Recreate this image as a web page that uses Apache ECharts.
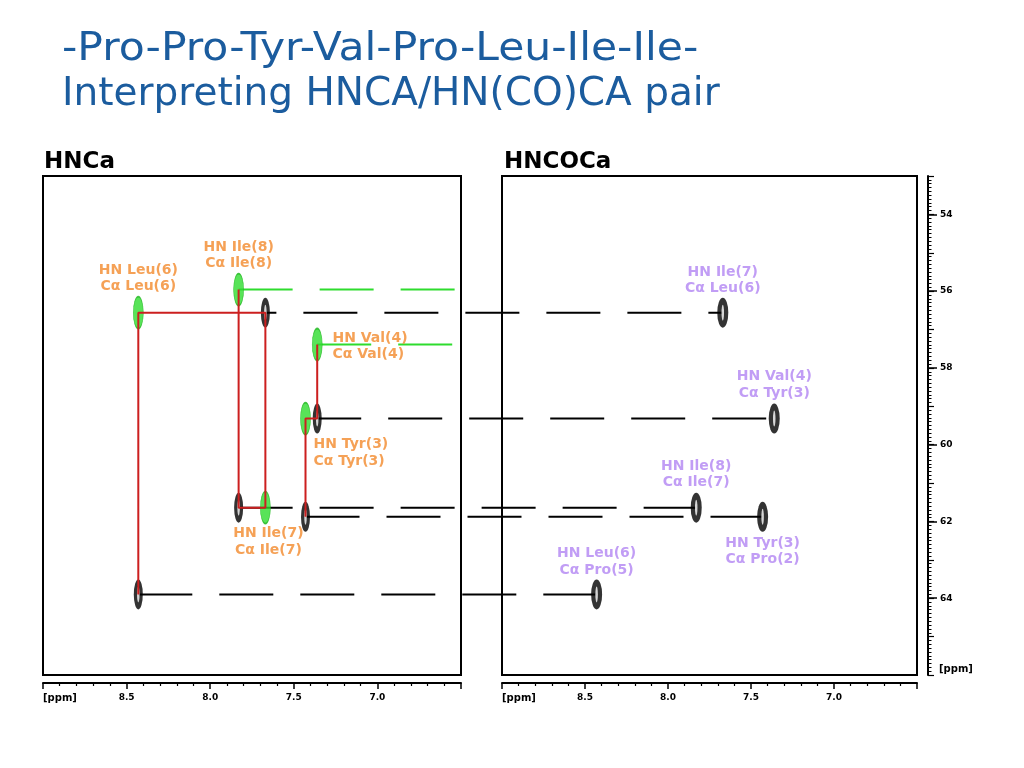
<!DOCTYPE html>
<html><head><meta charset="utf-8">
<script src="https://cdn.jsdelivr.net/npm/echarts@6/dist/echarts.min.js"></script>
<style>html,body{margin:0;padding:0;background:#fff}#c{width:1024px;height:768px}</style>
</head><body><div id="c"></div>
<script>
// ---- data ----
const titleLines = ['-Pro-Pro-Tyr-Val-Pro-Leu-Ile-Ile-', 'Interpreting HNCA/HN(CO)CA pair'];
const panelTitles = ['HNCa', 'HNCOCa'];
const residues     = ['Tyr(3)', 'Val(4)', 'Leu(6)', 'Ile(7)', 'Ile(8)'];
const prevResidues = ['Pro(2)', 'Tyr(3)', 'Pro(5)', 'Leu(6)', 'Ile(7)'];
const hnShift      = [7.43, 7.36, 8.43, 7.67, 7.83];
const caShift      = [59.32, 57.39, 56.56, 61.64, 55.96];
const caPrevShift  = [61.88, 59.32, 63.90, 56.56, 61.64];
const walks = [['Ile(8)', 'Ile(7)', 'Leu(6)'], ['Val(4)', 'Tyr(3)']];
const greenLineResidues = ['Ile(8)', 'Val(4)'];
const xRange = [6.5, 9.0];
const xStep = 0.5;
const yRange = [53, 66];
const yTickLabels = [54, 56, 58, 60, 62, 64];
const unitLabel = '[ppm]';

// ---- styles ----
const C = {title:'#1b5c9e', orange:'#f28a2c', purple:'#b285f2', green:'#2edc2e', red:'#cc1f1f', black:'#000'};
const FONT = 'DejaVu Sans';
const hncaLabelStyle = {
  'Leu(6)': {position:'top', distance:1},
  'Ile(8)': {position:'top', distance:1},
  'Val(4)': {position:'right', distance:10, offset:[0,2]},
  'Tyr(3)': {position:'bottom', distance:1, align:'left', offset:[8,0]},
  'Ile(7)': {position:'bottom', distance:1, offset:[3,0]}
};
const hncocaLabelStyle = {
  'Ile(7)': {position:'top', distance:1},
  'Val(4)': {position:'top', distance:2},
  'Ile(8)': {position:'top', distance:2},
  'Tyr(3)': {position:'bottom', distance:3},
  'Leu(6)': {position:'top', distance:1}
};
const linkDashOffset = {'Val(4)':10, 'Ile(7)':43};
const ELLIPSE = 'path://M10,0A10,10 0 1,1 10,20A10,10 0 1,1 10,0Z';

const idx = r => residues.indexOf(r);
const chart = echarts.init(document.getElementById('c'));

function xAxisOf(g) {
  return {
    gridIndex:g, type:'value', min:xRange[0], max:xRange[1], interval:xStep, inverse:true,
    position:'bottom', offset:8,
    axisLine:{lineStyle:{color:C.black, width:2}},
    axisTick:{length:6, lineStyle:{color:C.black, width:1.5}},
    minorTick:{show:true, splitNumber:5, length:3, lineStyle:{color:C.black, width:1.2}},
    axisLabel:{showMinLabel:false, showMaxLabel:false, margin:10, color:C.black,
      fontFamily:FONT, fontWeight:'bold', fontSize:9, formatter:v => v.toFixed(1)},
    splitLine:{show:false}, minorSplitLine:{show:false}
  };
}

const option = {
  animation:false,
  backgroundColor:'#fff',
  title:[
    {text:titleLines[1], left:62, top:72, padding:0,
      textStyle:{fontFamily:FONT, fontWeight:'normal', fontSize:39, lineHeight:45, color:C.title}},
    {text:panelTitles[0], left:44, top:150, padding:0,
      textStyle:{fontFamily:FONT, fontWeight:'bold', fontSize:23, lineHeight:24, color:C.black}},
    {text:panelTitles[1], left:504, top:150, padding:0,
      textStyle:{fontFamily:FONT, fontWeight:'bold', fontSize:23, lineHeight:24, color:C.black}}
  ],
  grid:[
    {left:43, top:176, width:418, height:499, show:true, borderColor:C.black, borderWidth:2, backgroundColor:'transparent'},
    {left:502, top:176, width:415, height:499, show:true, borderColor:C.black, borderWidth:2, backgroundColor:'transparent'}
  ],
  xAxis:[xAxisOf(0), xAxisOf(1)],
  yAxis:[
    {gridIndex:0, type:'value', min:yRange[0], max:yRange[1], inverse:true, show:false},
    {gridIndex:1, type:'value', min:yRange[0], max:yRange[1], interval:1, inverse:true,
      position:'right', offset:11,
      axisLine:{show:true, lineStyle:{color:C.black, width:2}},
      axisTick:{show:true, length:6, lineStyle:{color:C.black, width:1.2}},
      minorTick:{show:true, splitNumber:10, length:3.5, lineStyle:{color:C.black, width:1}},
      axisLabel:{margin:12, color:C.black, fontFamily:FONT, fontWeight:'bold', fontSize:9,
        formatter:v => (yTickLabels.indexOf(v) >= 0 ? String(v) : '')},
      splitLine:{show:false}, minorSplitLine:{show:false}},
    {gridIndex:1, type:'value', min:yRange[0], max:yRange[1], inverse:true,
      position:'right', offset:11,
      axisLine:{show:false},
      axisTick:{show:true, customValues:yTickLabels, length:9, lineStyle:{color:C.black, width:1.5}},
      axisLabel:{show:false}, splitLine:{show:false}}
  ],
  graphic:[
    {type:'text', x:62, y:27, scaleX:1.09, style:{text:titleLines[0], fontFamily:FONT, fontSize:39,
      lineHeight:45, fill:C.title, verticalAlign:'top'}},
    {type:'text', left:43, top:693, style:{text:unitLabel, font:'bold 10px "DejaVu Sans"', fill:C.black}},
    {type:'text', left:502, top:693, style:{text:unitLabel, font:'bold 10px "DejaVu Sans"', fill:C.black}},
    {type:'text', left:939, top:664, style:{text:unitLabel, font:'bold 10px "DejaVu Sans"', fill:C.black}}
  ],
  series:[]
};
chart.setOption(option);

// ---- series ----
const series = [];

// black dashed links from HNCA (i-1) peaks (left panel) to the matching HNCOCA peaks (right panel)
series.push({
  type:'custom', coordinateSystem:'cartesian2d', xAxisIndex:0, yAxisIndex:0, silent:true, z:1,
  data:residues.map((r, i) => [hnShift[i], caPrevShift[i], i]),
  renderItem:function (params, api) {
    const i = api.value(2);
    const p1 = api.coord([api.value(0), api.value(1)]);
    const p2 = chart.convertToPixel({gridIndex:1}, [hnShift[i], caPrevShift[i]]);
    return {type:'line', shape:{x1:p1[0], y1:p1[1], x2:p2[0], y2:p1[1]},
      style:{stroke:C.black, lineWidth:2, lineDash:[54, 27], lineDashOffset:linkDashOffset[residues[i]] || 0}};
  }
});

// green dashed lines
greenLineResidues.forEach(r => {
  const i = idx(r);
  series.push({type:'line', xAxisIndex:0, yAxisIndex:0, silent:true, symbol:'none', z:1,
    lineStyle:{color:C.green, width:2, type:[54, 27]},
    data:[[hnShift[i], caShift[i]], [xRange[0], caShift[i]]]});
});

// HNCA black (i-1) peaks
series.push({type:'scatter', xAxisIndex:0, yAxisIndex:0, symbol:ELLIPSE, symbolSize:[9, 30], z:3, silent:true,
  itemStyle:{color:C.black},
  data:residues.map((r, i) => [hnShift[i], caPrevShift[i]])});
series.push({type:'scatter', xAxisIndex:0, yAxisIndex:0, symbol:ELLIPSE, symbolSize:[2.5, 16], z:3, silent:true,
  itemStyle:{color:'#fff'},
  data:residues.map((r, i) => [hnShift[i], caPrevShift[i]])});

// HNCA green (i) peaks with orange labels
series.push({type:'scatter', xAxisIndex:0, yAxisIndex:0, symbol:ELLIPSE, symbolSize:[10, 32], z:3, silent:true,
  itemStyle:{color:C.green, borderColor:'#1fb51f', borderWidth:1},
  data:residues.map((r, i) => ({
    value:[hnShift[i], caShift[i]],
    label:Object.assign({show:true, formatter:'HN ' + r + '\nC\u03b1 ' + r,
      color:C.orange, fontFamily:FONT, fontWeight:'bold', fontSize:14, lineHeight:16.5},
      hncaLabelStyle[r])
  }))});

// HNCOCA peaks with purple labels
series.push({type:'scatter', xAxisIndex:1, yAxisIndex:1, symbol:ELLIPSE, symbolSize:[11, 30], z:3, silent:true,
  itemStyle:{color:C.black},
  data:residues.map((r, i) => ({
    value:[hnShift[i], caPrevShift[i]],
    label:Object.assign({show:true, formatter:'HN ' + r + '\nC\u03b1 ' + prevResidues[i],
      color:C.purple, fontFamily:FONT, fontWeight:'bold', fontSize:14, lineHeight:16.5},
      hncocaLabelStyle[r])
  }))});
series.push({type:'scatter', xAxisIndex:1, yAxisIndex:1, symbol:ELLIPSE, symbolSize:[2.5, 16], z:3, silent:true,
  itemStyle:{color:'#fff'},
  data:residues.map((r, i) => [hnShift[i], caPrevShift[i]])});

// red sequential walk
walks.forEach(chain => {
  const pts = [];
  chain.forEach(r => {
    const i = idx(r);
    pts.push([hnShift[i], caShift[i]]);
    pts.push([hnShift[i], caPrevShift[i]]);
  });
  series.push({type:'line', xAxisIndex:0, yAxisIndex:0, silent:true, symbol:'none', z:4,
    lineStyle:{color:C.red, width:2}, data:pts});
});

chart.setOption({series:series});
</script>
</body></html>
